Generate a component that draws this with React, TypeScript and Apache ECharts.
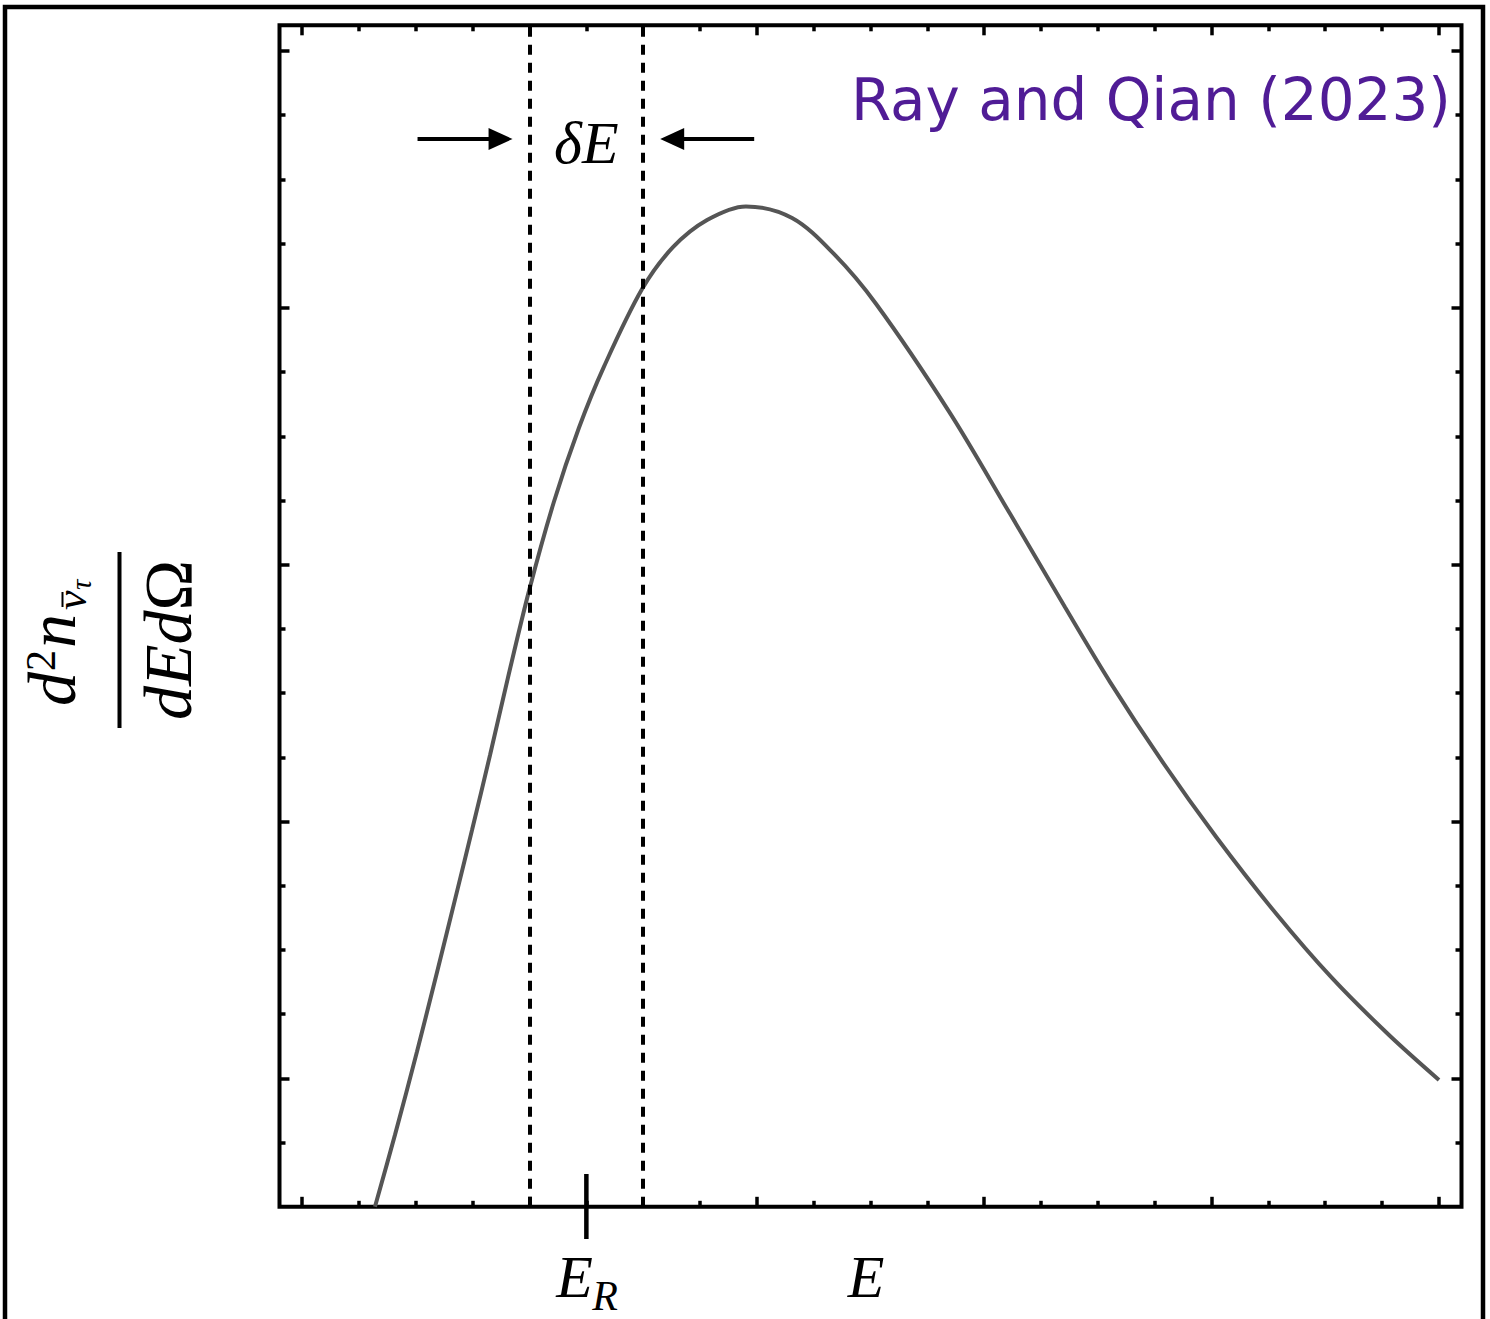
import React, { useEffect, useRef } from "react";
import * as echarts from "echarts";

const W = 1490;
const H = 1319;

// Energy (x) and spectrum value (y)
const E_VALUES = [0.32, 0.408, 0.505, 0.593, 0.681, 0.747, 0.826, 0.905, 0.998, 1.107, 1.217, 1.327, 1.495, 1.631, 1.781, 1.952, 2.155, 2.339, 2.524, 2.845, 3.114, 3.356, 3.554, 3.787, 4.02, 4.284, 4.53, 4.781, 5.001];
const SPECTRUM = [0, 0.28, 0.605, 0.913, 1.228, 1.467, 1.758, 2.06, 2.399, 2.744, 3.032, 3.27, 3.573, 3.736, 3.842, 3.895, 3.85, 3.71, 3.516, 3.097, 2.698, 2.334, 2.043, 1.729, 1.441, 1.142, 0.891, 0.669, 0.494];

const X_RANGE = [-0.1, 5.1];
const Y_RANGE = [0, 4.6];
const X_MAJOR_TICKS = [0, 1, 2, 3, 4, 5];
const X_MINOR_TICKS = [0.25, 0.5, 0.75, 1.25, 1.5, 1.75, 2.25, 2.5, 2.75, 3.25, 3.5, 3.75, 4.25, 4.5, 4.75];
const Y_MAJOR_TICKS = [0.5, 1.5, 2.5, 3.5, 4.5];
const Y_MINOR_TICKS = [0.25, 0.75, 1, 1.25, 1.75, 2, 2.25, 2.75, 3, 3.25, 3.75, 4, 4.25];
const WINDOW_EDGES = [1.0, 1.5];
const E_R = 1.25;
const E_LABEL_X = 2.48;

const SERIF = "'Liberation Serif', 'DejaVu Serif', serif";
const CREDIT = "Ray and Qian (2023)";

function mid(baseline: number, size: number) {
  return baseline - 0.3375 * size;
}

function fitFont(text: string, family: string, targetW: number) {
  const c = document.createElement("canvas").getContext("2d");
  if (!c) return 58;
  c.font = `100px ${family}`;
  const w = c.measureText(text).width;
  return (100 * targetW) / w;
}

function txt(x: number, y: number, text: string, font: string, extra: any = {}) {
  return {
    type: "text",
    x,
    y,
    z: 100,
    style: {
      text,
      font,
      fill: "#000",
      align: "left",
      textAlign: "left",
      verticalAlign: "middle",
      textVerticalAlign: "middle",
      ...extra,
    },
  };
}

function xAxis(position: string, ticks: number[], len: number) {
  return {
    type: "value",
    position,
    min: X_RANGE[0],
    max: X_RANGE[1],
    axisLine: { show: false, onZero: false },
    axisTick: { show: true, inside: true, length: len, customValues: ticks, lineStyle: { color: "#000", width: 3.5 } },
    axisLabel: { show: false },
    splitLine: { show: false },
  };
}

function yAxis(position: string, ticks: number[], len: number) {
  return {
    type: "value",
    position,
    min: Y_RANGE[0],
    max: Y_RANGE[1],
    axisLine: { show: false, onZero: false },
    axisTick: { show: true, inside: true, length: len, customValues: ticks, lineStyle: { color: "#000", width: 3.5 } },
    axisLabel: { show: false },
    splitLine: { show: false },
  };
}

export default function App() {
  const ref = useRef<HTMLDivElement>(null);

  useEffect(() => {
    if (!ref.current) return;
    const chart = echarts.init(ref.current, undefined, { renderer: "svg" });
    chart.setOption({
      animation: false,
      backgroundColor: "#fff",
      grid: {
        left: 279.5,
        top: 25.3,
        width: 1182,
        height: 1181.5,
        show: true,
        borderWidth: 4,
        borderColor: "#000",
        backgroundColor: "transparent",
      },
      xAxis: [
        xAxis("bottom", X_MAJOR_TICKS, 10),
        xAxis("bottom", X_MINOR_TICKS, 6),
        xAxis("top", X_MAJOR_TICKS, 10),
        xAxis("top", X_MINOR_TICKS, 6),
      ],
      yAxis: [
        yAxis("left", Y_MAJOR_TICKS, 10),
        yAxis("left", Y_MINOR_TICKS, 6),
        yAxis("right", Y_MAJOR_TICKS, 10),
        yAxis("right", Y_MINOR_TICKS, 6),
      ],
      series: [
        {
          type: "line",
          xAxisIndex: 0,
          yAxisIndex: 0,
          data: E_VALUES.map((e, i) => [e, SPECTRUM[i]]),
          showSymbol: false,
          smooth: 0.33,
          lineStyle: { color: "#555555", width: 4 },
          markLine: {
            silent: true,
            symbol: ["none", "none"],
            label: { show: false },
            lineStyle: { color: "#000", width: 4, type: [10, 8] },
            data: WINDOW_EDGES.map((v) => ({ xAxis: v })),
          },
        },
      ],
    });

    const px = (x: number, y: number) => chart.convertToPixel({ gridIndex: 0 }, [x, y]) as number[];
    const left = px(WINDOW_EDGES[0], 0)[0];
    const right = px(WINDOW_EDGES[1], 0)[0];
    const er = px(E_R, 0);
    const eLab = px(E_LABEL_X, 0)[0];
    const arrowY = 139;
    const creditFamily = "'DejaVu Sans'";
    const creditSize = fitFont(CREDIT, creditFamily, 600);

    const s = 68;
    const yLabel = {
      type: "group",
      x: 119.5,
      y: 640,
      rotation: Math.PI / 2,
      z: 100,
      children: [
        { type: "line", z: 100, shape: { x1: -88, y1: 0, x2: 88, y2: 0 }, style: { stroke: "#000", lineWidth: 4 } },
        txt(-66, mid(-44.5, s), "d", `italic ${s}px ${SERIF}`),
        txt(-31, mid(-64, 42), "2", `42px ${SERIF}`),
        txt(-8, mid(-44.5, s), "n", `italic ${s}px ${SERIF}`),
        txt(30, mid(-33, 44), "ν", `italic 44px ${SERIF}`),
        { type: "line", z: 100, shape: { x1: 33, y1: -57, x2: 48, y2: -57 }, style: { stroke: "#000", lineWidth: 2 } },
        txt(50, mid(-29, 29), "τ", `italic 29px ${SERIF}`),
        {
          type: "text",
          x: -80,
          y: mid(71, s),
          z: 100,
          style: {
            text: "{i|dEd}{u|Ω}",
            align: "left",
            textAlign: "left",
            verticalAlign: "middle",
            textVerticalAlign: "middle",
            rich: {
              i: { fontFamily: SERIF, fontStyle: "italic", fontSize: s, fill: "#000", color: "#000" },
              u: { fontFamily: SERIF, fontWeight: "normal", fontSize: s, fill: "#000", color: "#000" },
            },
          },
        },
      ],
    };

    const arrowHead = (tipX: number, dir: number) => ({
      type: "polygon",
      z: 100,
      shape: {
        points: [
          [tipX, arrowY],
          [tipX - dir * 24, arrowY - 11],
          [tipX - dir * 24, arrowY + 11],
        ],
      },
      style: { fill: "#000" },
    });

    chart.setOption({
      graphic: [
        // outer frame
        { type: "rect", z: 100, shape: { x: 5, y: 7, width: 1478, height: 1400 }, style: { fill: "none", stroke: "#000", lineWidth: 4.5 } },
        // arrows
        { type: "line", z: 100, shape: { x1: left - 112, y1: arrowY, x2: left - 36, y2: arrowY }, style: { stroke: "#000", lineWidth: 4 } },
        arrowHead(left - 17, 1),
        { type: "line", z: 100, shape: { x1: right + 111, y1: arrowY, x2: right + 36, y2: arrowY }, style: { stroke: "#000", lineWidth: 4 } },
        arrowHead(right + 17, -1),
        txt((left + right) / 2, mid(163, 60), "δE", `italic 60px ${SERIF}`, { align: "center", textAlign: "center" }),
        // E_R tick and labels
        { type: "line", z: 100, shape: { x1: er[0], y1: 1174, x2: er[0], y2: 1239 }, style: { stroke: "#000", lineWidth: 4.5 } },
        txt(er[0] - 30, mid(1297, 60), "E", `italic 60px ${SERIF}`),
        txt(er[0] + 6, mid(1310, 42), "R", `italic 42px ${SERIF}`),
        txt(eLab, mid(1297, 60), "E", `italic 60px ${SERIF}`, { align: "center", textAlign: "center" }),
        // credit
        txt(851, mid(120, creditSize), CREDIT, `${creditSize}px ${creditFamily}`, { fill: "#501C96" }),
        yLabel,
      ],
    });

    return () => chart.dispose();
  }, []);

  return (
    <div
      ref={ref}
      style={{ position: "absolute", left: 0, top: 0, width: W, height: H, background: "#fff" }}
    />
  );
}
